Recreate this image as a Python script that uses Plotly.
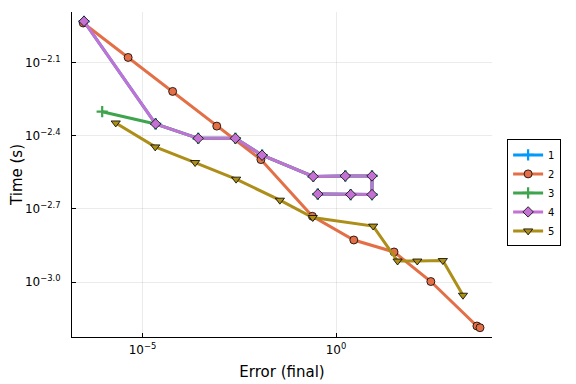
import plotly.graph_objects as go

# Data (log10 values)
s2_logx = [-6.53, -5.37, -4.22, -3.08, -1.94, -0.61, 0.46, 1.50, 2.45, 3.64, 3.72]
s2_logy = [-1.939, -2.080, -2.219, -2.361, -2.498, -2.730, -2.827, -2.876, -2.997, -3.179, -3.186]

s4_logx = [-6.51, -4.66, -3.56, -2.60, -1.91, -0.59, 0.24, 0.93, 0.93, 0.38, -0.47]
s4_logy = [-1.932, -2.352, -2.411, -2.411, -2.480, -2.567, -2.565, -2.565, -2.641, -2.641, -2.639]

s1_logx = s4_logx
s1_logy = s4_logy

s3_logx = [-6.04] + s4_logx[1:]
s3_logy = [-2.302] + s4_logy[1:]

s5_logx = [-5.69, -4.67, -3.64, -2.58, -1.45, -0.60, 0.96, 1.59, 2.10, 2.76, 3.28]
s5_logy = [-2.348, -2.446, -2.510, -2.578, -2.664, -2.735, -2.770, -2.913, -2.913, -2.911, -3.053]

series_names = ["1", "2", "3", "4", "5"]
colors = ["#009AFA", "#E36F47", "#3EA44E", "#C371D2", "#AC8E18"]
symbols = ["cross-thin", "circle", "cross-thin", "diamond", "triangle-down"]

x_tickvals_log = [-5, 0]
x_ticktext = ["10<sup>−5</sup>", "10<sup>0</sup>"]
y_tickvals_log = [-2.1, -2.4, -2.7, -3.0]
y_ticktext = ["10<sup>−2.1</sup>", "10<sup>−2.4</sup>", "10<sup>−2.7</sup>", "10<sup>−3.0</sup>"]

data = [(s1_logx, s1_logy), (s2_logx, s2_logy), (s3_logx, s3_logy),
        (s4_logx, s4_logy), (s5_logx, s5_logy)]

fig = go.Figure()
for (lx, ly), name, c, sym in zip(data, series_names, colors, symbols):
    is_cross = sym.startswith("cross")
    marker = dict(symbol=sym, size=8, color=c,
                  line=dict(color=c if is_cross else "black", width=2.2 if is_cross else 0.8))
    fig.add_trace(go.Scatter(
        x=[10 ** v for v in lx], y=[10 ** v for v in ly],
        mode="lines+markers", name=name,
        line=dict(color=c, width=3),
        marker=marker,
    ))

font = "DejaVu Sans, Liberation Sans, sans-serif"
axis_common = dict(
    type="log", showline=True, linecolor="black", linewidth=1,
    ticks="inside", ticklen=4, tickcolor="black",
    showgrid=True, gridcolor="rgba(0,0,0,0.08)", gridwidth=1,
    zeroline=False, mirror=False, automargin=False,
    tickfont=dict(family=font, size=12, color="black"),
)

fig.update_layout(
    width=576, height=384,
    margin=dict(l=64, r=92, t=4, b=55),
    paper_bgcolor="white", plot_bgcolor="white",
    font=dict(family=font, color="black"),
    xaxis=dict(axis_common, range=[-6.82, 4.03], ticklabelstandoff=2,
               tickvals=[10 ** v for v in x_tickvals_log], ticktext=x_ticktext,
               title=dict(text="Error (final)", font=dict(size=15), standoff=10)),
    yaxis=dict(axis_common, range=[-3.224, -1.894], ticklabelstandoff=8,
               tickvals=[10 ** v for v in y_tickvals_log], ticktext=y_ticktext,
               title=dict(text="Time (s)", font=dict(size=15), standoff=6)),
    legend=dict(x=1.036, y=0.608, xanchor="left", yanchor="top",
                bordercolor="black", borderwidth=1, bgcolor="white",
                font=dict(size=10), tracegroupgap=0, itemwidth=30),
    showlegend=True,
)

fig.write_html("out.html")
